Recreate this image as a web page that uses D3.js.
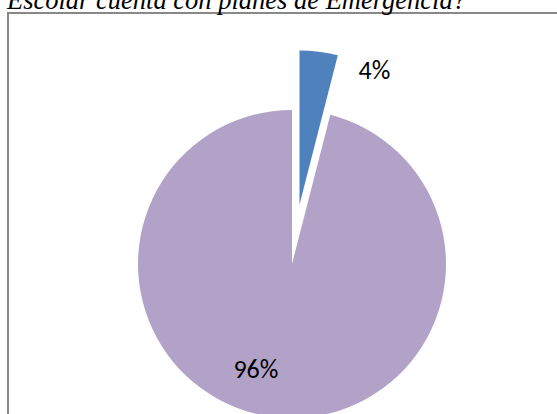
<!DOCTYPE html>
<html lang="es">
  <head>
    <meta charset="utf-8" />
    <script src="https://d3js.org/d3.v7.min.js"></script>
    <style>
      body { margin: 0; background: #fff; }
      svg { display: block; }
    </style>
  </head>
  <body>
    <div id="chart"></div>
    <script>
      // data
      var categories = ["Sí", "No"];
      var values = [4, 96];
      var labels = ["4%", "96%"];
      var colors = ["#4f81bd", "#b3a2c7"];
      var titleText = "Escolar cuenta con planes de Emergencia?";

      var width = 557;
      var height = 414;
      var radius = 154;
      var cx = 292, cy = 264;
      var explode = 60; // offset of the small slice

      var svg = d3
        .select("#chart")
        .append("svg")
        .attr("width", width)
        .attr("height", height);

      // chart frame (runs off the right and bottom edge)
      svg.append("rect")
        .attr("x", 8)
        .attr("y", 13)
        .attr("width", 600)
        .attr("height", 450)
        .attr("fill", "none")
        .attr("stroke", "#888")
        .attr("stroke-width", 2);

      svg.append("text")
        .attr("x", 7)
        .attr("y", 9)
        .attr("font-family", "'Liberation Serif', 'Times New Roman', serif")
        .attr("font-style", "italic")
        .attr("font-size", 26.5)
        .attr("fill", "#000")
        .text(titleText);

      var pie = d3.pie().value(function (d) { return d; }).sort(null);
      var arc = d3.arc().innerRadius(0).outerRadius(radius);
      var arcs = pie(values);

      var g = svg.append("g")
        .attr("transform", "translate(" + cx + "," + cy + ")");

      g.selectAll("path")
        .data(arcs)
        .enter()
        .append("path")
        .attr("d", arc)
        .attr("fill", function (d, i) { return colors[i]; })
        .attr("transform", function (d, i) {
          if (i !== 0) return null;
          var mid = (d.startAngle + d.endAngle) / 2;
          var p = d3.pointRadial(mid, explode);
          return "translate(" + p[0] + "," + p[1] + ")";
        });

      // label placement (Excel best fit): angle in degrees, distance from centre
      var labelPos = [
        { a: 23, r: 211 },
        { a: 199, r: 111 }
      ];

      g.selectAll(".lbl")
        .data(arcs)
        .enter()
        .append("text")
        .attr("class", "lbl")
        .attr("transform", function (d, i) {
          var p = d3.pointRadial(labelPos[i].a * Math.PI / 180, labelPos[i].r);
          return "translate(" + p[0] + "," + p[1] + ")";
        })
        .attr("text-anchor", "middle")
        .attr("dy", "0.35em")
        .attr("font-family", "Carlito, Calibri, Lato, sans-serif")
        .attr("font-size", 26)
        .attr("fill", "#000")
        .text(function (d, i) { return labels[i]; });
    </script>
  </body>
</html>
